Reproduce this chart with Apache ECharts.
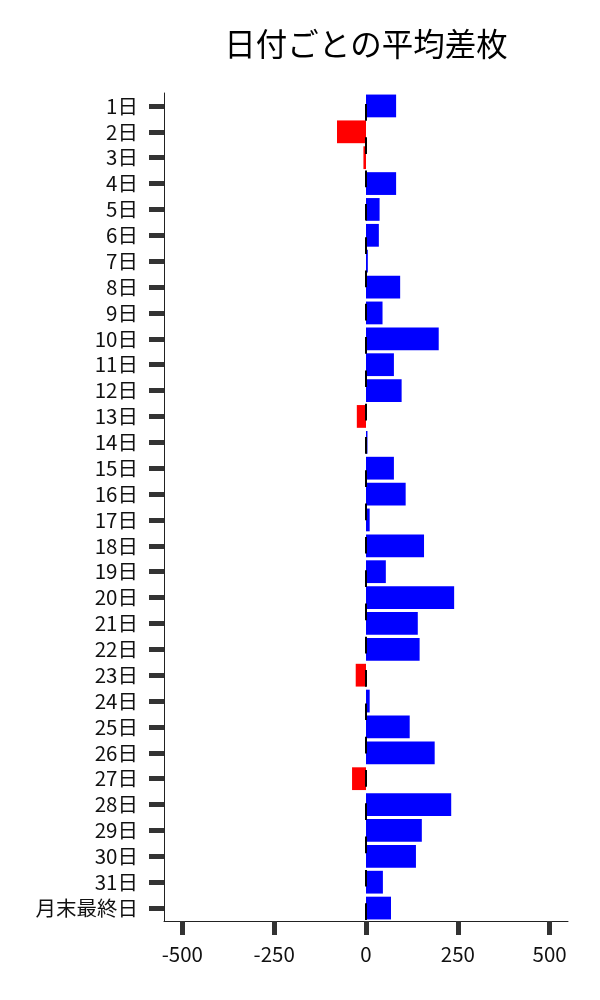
<!DOCTYPE html>
<html>
<head>
<meta charset="utf-8">
<script src="https://cdn.jsdelivr.net/npm/echarts@6/dist/echarts.min.js"></script>
<style>
  html, body { margin: 0; padding: 0; background: #fff; }
  #chart { width: 600px; height: 1000px; }
</style>
</head>
<body>
<div id="chart"></div>
<script>
// 日付ごとの平均差枚
const days = [
  '1日', '2日', '3日', '4日', '5日', '6日', '7日', '8日', '9日', '10日',
  '11日', '12日', '13日', '14日', '15日', '16日', '17日', '18日', '19日', '20日',
  '21日', '22日', '23日', '24日', '25日', '26日', '27日', '28日', '29日', '30日',
  '31日', '月末最終日',
];
const avgDiff = [
  82, -79, -7, 82, 37, 35, 5, 93, 45, 198,
  76, 97, -25, 4, 76, 108, 10, 158, 54, 240,
  141, 146, -28, 10, 119, 187, -38, 232, 152, 136,
  46, 68,
];
const xTicks = [-500, -250, 0, 250, 500];

const FONT = '"Noto Sans CJK JP", "Noto Sans", sans-serif';

const chart = echarts.init(document.getElementById('chart'));

const option = {
  backgroundColor: '#fff',
  animation: false,
  textStyle: { fontFamily: FONT },
  title: {
    text: '日付ごとの平均差枚',
    left: 361,
    textAlign: 'center',
    top: 23,
    textStyle: { fontFamily: FONT, fontSize: 31.5, fontWeight: 'normal', color: '#000' },
  },
  grid: { left: 164, right: 32, top: 93, bottom: 79 },
  xAxis: {
    type: 'value',
    min: -550,
    max: 550,
    axisLine: { show: true, onZero: false, lineStyle: { color: '#222', width: 1 } },
    axisTick: {
      show: true,
      customValues: xTicks,
      length: 14,
      lineStyle: { color: '#333', width: 5 },
    },
    axisLabel: {
      customValues: xTicks,
      margin: 23,
      fontSize: 20.5,
      color: '#111',
      fontFamily: FONT,
    },
    splitLine: { show: false },
  },
  yAxis: {
    type: 'category',
    data: days,
    inverse: true,
    axisLine: { show: true, onZero: false, lineStyle: { color: '#222', width: 1 } },
    axisTick: {
      show: true,
      alignWithLabel: true,
      length: 15,
      lineStyle: { color: '#333', width: 5 },
    },
    axisLabel: {
      margin: 26,
      fontSize: 20.5,
      color: '#111',
      fontFamily: FONT,
      interval: 0,
    },
  },
  series: [
    {
      type: 'bar',
      data: avgDiff,
      barWidth: '88%',
      itemStyle: {
        color: p => (p.value < 0 ? '#ff0000' : '#0000ff'),
      },
      // 0 の位置の破線 (上端から描かれるので offset で合わせる)
      markLine: {
        silent: true,
        symbol: 'none',
        label: { show: false },
        lineStyle: { color: '#000', width: 2, type: [16.7, 16.6], dashOffset: 22.3 },
        data: [{ xAxis: 0 }],
      },
    },
  ],
};

chart.setOption(option);
</script>
</body>
</html>
